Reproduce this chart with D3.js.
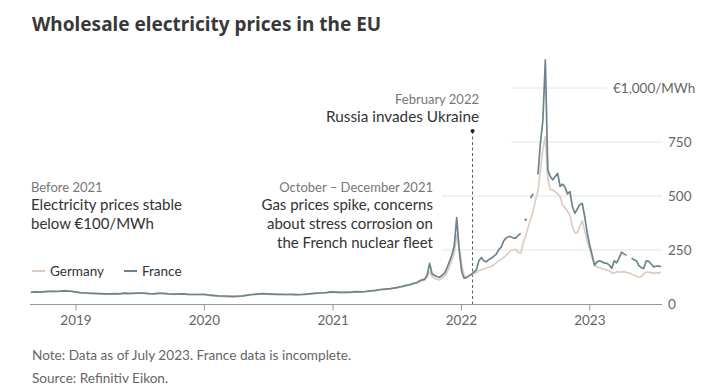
<!DOCTYPE html>
<html>
<head>
<meta charset="utf-8">
<script src="https://cdn.jsdelivr.net/npm/d3@7"></script>
<style>
  body { margin: 0; background: #fff; }
  svg { font-family: "Lato", "Noto Sans", sans-serif; }
</style>
</head>
<body>
<svg id="chart"></svg>
<script>
// Wholesale electricity prices, EUR/MWh
// early part: one value every two weeks from 27 Aug 2018 to 28 Jun 2021
var early_start = "2018-08-27";
var germany_early = [55, 57, 56, 58, 60, 57, 59, 62, 60, 55,
                     52, 50, 50, 48, 47, 48, 46, 47, 48, 49,
                     48, 50, 51, 49, 47, 48, 50, 48, 46, 45,
                     47, 46, 44, 45, 43, 44, 40, 38, 36, 34,
                     33, 32, 34, 36, 40, 43, 45, 47, 46, 45,
                     46, 44, 43, 44, 42, 43, 45, 47, 49, 50,
                     52, 55, 54, 53, 55, 54, 56, 55, 57, 60,
                     62, 66, 68, 70, 73];
var france_early  = [54, 56, 55, 57, 59, 58, 60, 61, 59, 56,
                     53, 51, 49, 49, 48, 47, 47, 48, 47, 50,
                     49, 49, 50, 50, 48, 47, 49, 49, 47, 46,
                     46, 47, 45, 44, 44, 45, 42, 40, 38, 37,
                     36, 35, 36, 38, 41, 44, 46, 48, 47, 46,
                     45, 45, 44, 45, 43, 44, 46, 48, 50, 51,
                     53, 56, 55, 54, 54, 55, 57, 56, 58, 61,
                     63, 67, 69, 71, 75];

// late part: one value a week from 5 Jul 2021 to 24 Jul 2023 (null = no French data)
var late_start = "2021-07-05";
var germany_late = [75, 78, 80, 84, 86, 88, 92, 95, 98, 102,
                    108, 110, 125, 150, 128, 118, 115, 112, 120, 128,
                    145, 170, 200, 235, 320, 265, 185, 130, 125, 132,
                    135, 140, 145, 155, 158, 162, 166, 170, 175, 180,
                    190, 200, 205, 215, 225, 235, 248, 250, 253, 240,
                    235, 285, 315, 355, 390, 430, 480, 525, 620, 715,
                    775, 580, 530, 528, 520, 510, 497, 460, 445, 430,
                    410, 360, 330, 330, 360, 385, 340, 290, 258, 215,
                    178, 172, 168, 165, 160, 157, 153, 145, 142, 150,
                    148, 148, 150, 145, 145, 138, 134, 128, 124, 126,
                    140, 148, 147, 145, 142, 145, 143, 148];
var france_late  = [77, 80, 82, 85, 87, 90, 94, 97, 100, 108,
                    112, 115, 135, 188, 140, 132, 126, 124, 132, 142,
                    165, 195, 225, 270, 400, 250, 150, 120, 122, 130,
                    138, 148, 158, 200, 215, 200, 195, 205, 212, 220,
                    230, 250, 262, 290, 305, 312, 312, 305, 305, 318,
                    327, null, 390, null, 490, 510, null, 600, 745, 850,
                    1130, 620, 590, 575, 590, 605, 545, 555, 540, 510,
                    520, 450, 420, 440, 460, 466, 404, 330, 273, 227,
                    180, 195, 200, 195, 190, 188, 180, 165, 200, 190,
                    215, 240, 232, 225, null, 212, 205, 200, 178, 168,
                    165, 200, 198, 185, 172, 175, 176, 173];

var year_ticks   = ["2019", "2020", "2021", "2022", "2023"];
var price_ticks  = [0, 250, 500, 750, 1000];
var series_names = ["Germany", "France"];
var invasion_date = "2022-02-03";

var W = 716, H = 387;
var colors = {Germany: "#ddcdc0", France: "#6c848b"};

var parse = d3.timeParse("%Y-%m-%d");

function build(start, step_weeks, de, fr) {
	var rows = [];
	var t0 = parse(start);
	for (var i = 0; i < de.length; i++) {
		rows.push({date: d3.timeWeek.offset(t0, i * step_weeks), Germany: de[i], France: fr[i]});
	}
	return rows;
}

var data = build(early_start, 2, germany_early, france_early)
	.concat(build(late_start, 1, germany_late, france_late));

var svg = d3.select("#chart").attr("width", W).attr("height", H);

var x = d3.scaleTime()
	.domain([new Date(2019, 0, 1), new Date(2023, 0, 1)])
	.range([75.5, 589.3]);

var y = d3.scaleLinear()
	.domain([0, 1000])
	.range([304, 88]);

var x_left = 30, x_right = 662;

// gridlines (they stop short of the annotations, like the original)
var grid_from = {250: 442, 500: 442, 750: 511, 1000: 511};
var grid_to   = {250: x_right, 500: x_right, 750: x_right, 1000: 607};

svg.append("g").selectAll("line")
	.data(price_ticks.filter(function(d) { return d > 0; }))
	.enter().append("line")
	.attr("x1", function(d) { return grid_from[d]; })
	.attr("x2", function(d) { return grid_to[d]; })
	.attr("y1", function(d) { return y(d); })
	.attr("y2", function(d) { return y(d); })
	.attr("stroke", "#e4e4e4")
	.attr("stroke-width", 1);

// price labels on the right
var yaxis = svg.append("g")
	.attr("transform", "translate(" + (x_right + 6) + ",0)")
	.call(d3.axisRight(y).tickValues(price_ticks).tickSize(0)
		.tickFormat(function(d) { return d === 1000 ? "€1,000/MWh" : d3.format(",")(d); }));
yaxis.select(".domain").remove();
yaxis.selectAll("text")
	.attr("x", 0)
	.attr("fill", "#666")
	.style("font-family", "Lato, 'Noto Sans', sans-serif")
	.style("font-size", "13.5px");
yaxis.selectAll(".tick").filter(function(d) { return d === 1000; })
	.select("text").attr("x", -55);

// annotation for the invasion, drawn under the lines
var xi = x(parse(invasion_date));
svg.append("line")
	.attr("x1", xi).attr("x2", xi)
	.attr("y1", 131).attr("y2", y(0))
	.attr("stroke", "#333")
	.attr("stroke-width", 0.8)
	.attr("stroke-dasharray", "3,2.5");

// lines
var line = function(key) {
	return d3.line()
		.defined(function(d) { return d[key] != null; })
		.x(function(d) { return x(d.date); })
		.y(function(d) { return y(d[key]); });
};

series_names.forEach(function(k) {
	svg.append("path")
		.datum(data)
		.attr("fill", "none")
		.attr("stroke", colors[k])
		.attr("stroke-width", 1.7)
		.attr("stroke-linejoin", "round")
		.attr("d", line(k));

	// lone points between two gaps show up as dots
	var lone = data.filter(function(d, i) {
		return d[k] != null
			&& (i === 0 || data[i - 1][k] == null)
			&& (i === data.length - 1 || data[i + 1][k] == null);
	});
	svg.append("g").selectAll("circle")
		.data(lone).enter().append("circle")
		.attr("cx", function(d) { return x(d.date); })
		.attr("cy", function(d) { return y(d[k]); })
		.attr("r", 1.2)
		.attr("fill", colors[k]);
});

// x axis
svg.append("line")
	.attr("x1", x_left).attr("x2", x_right)
	.attr("y1", y(0) + 0.5).attr("y2", y(0) + 0.5)
	.attr("stroke", "#999");

var xaxis = svg.append("g")
	.attr("transform", "translate(0," + (y(0) + 0.5) + ")")
	.call(d3.axisBottom(x)
		.tickValues(year_ticks.map(function(s) { return new Date(+s, 0, 1); }))
		.tickSize(6).tickPadding(5)
		.tickFormat(d3.timeFormat("%Y")));
xaxis.select(".domain").remove();
xaxis.selectAll("line").attr("stroke", "#999");
xaxis.selectAll("text")
	.attr("fill", "#666")
	.style("font-family", "Lato, 'Noto Sans', sans-serif")
	.style("font-size", "13.5px");

svg.append("circle")
	.attr("cx", xi).attr("cy", 131).attr("r", 2)
	.attr("fill", "#222");

// texts
function label(txt, tx, ty, size, color, anchor, weight) {
	return svg.append("text")
		.attr("x", tx).attr("y", ty)
		.attr("fill", color)
		.attr("text-anchor", anchor || "start")
		.style("font-size", size + "px")
		.style("font-weight", weight || "normal")
		.text(txt);
}

label("Wholesale electricity prices in the EU", 32, 31, 19, "#383838", "start", "bold")
	.style("font-family", "'Noto Sans', sans-serif");

label("Before 2021", 31, 192, 13, "#777");
label("Electricity prices stable", 31, 210, 15, "#333");
label("below €100/MWh", 31, 229, 15, "#333");

label("October – December 2021", 433, 192, 13, "#777", "end");
label("Gas prices spike, concerns", 433, 210, 15, "#333", "end");
label("about stress corrosion on", 433, 229, 15, "#333", "end");
label("the French nuclear fleet", 433, 248, 15, "#333", "end");

label("February 2022", 479, 104, 13, "#777", "end");
label("Russia invades Ukraine", 479, 122, 15.3, "#333", "end");

label("Note: Data as of July 2023. France data is incomplete.", 32, 360, 13.6, "#666");
label("Source: Refinitiv Eikon.", 32, 383, 13.6, "#666");

// legend
var legend_x = {Germany: 32, France: 124};
series_names.forEach(function(k) {
	svg.append("line")
		.attr("x1", legend_x[k]).attr("x2", legend_x[k] + 13)
		.attr("y1", 271).attr("y2", 271)
		.attr("stroke", colors[k]).attr("stroke-width", 2);
	label(k, legend_x[k] + 18, 276, 13.5, "#333");
});
</script>
</body>
</html>
